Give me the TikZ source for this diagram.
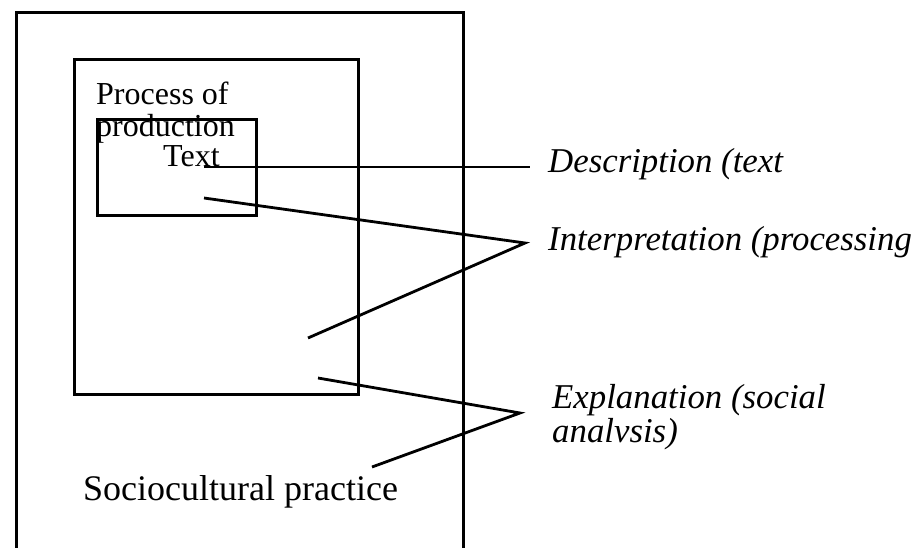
\documentclass[tikz,border=0pt]{standalone}
\usepackage{fontspec}
\setmainfont{Liberation Serif}
\begin{document}
\begin{tikzpicture}[x=1pt,y=-1pt,
  frame/.style={draw, line width=3.4pt, inner sep=0pt, anchor=north west},
  link/.style={line width=2.8pt},
  plain/.style={inner sep=0pt, anchor=base west, font=\fontsize{32}{30}\selectfont},
  big/.style={inner sep=0pt, anchor=base west, font=\fontsize{36}{40}\selectfont},
  lab/.style={inner sep=0pt, anchor=base west, font=\fontsize{34.8}{34}\selectfont\itshape}]
\clip (0,0) rectangle (920,548);
\fill[white] (0,0) rectangle (920,548);
% frames
\node[frame, minimum width=447pt, minimum height=560pt] (outer) at (15,11) {};
\node[frame, minimum width=284pt, minimum height=335pt] (process) at (73,58) {};
\node[frame, minimum width=159pt, minimum height=96pt] (textbox) at (96,118) {};
% texts inside
\node[plain] (procA) at (96,105) {Process of};
\node[plain] (procB) at (96,137) {production};
\node[plain] (txt) at (163,167) {Text};
\node[big] (socio) at (83,500) {Sociocultural practice};
% labels
\node[lab] (desc) at (548,173) {Description (text};
\node[lab] (interp) at (548,250) {Interpretation (processing};
\node[lab] (expl) at (552,408) {Explanation (social};
\node[lab] (expl2) at (552,442) {analvsis)};
% connector points
\coordinate (d1) at (204,167);
\coordinate (d2) at (530,167);
\coordinate (i1) at (204,198);
\coordinate (iv) at (525,243);
\coordinate (i2) at (308,338);
\coordinate (e1) at (318,378);
\coordinate (ev) at (520,413);
\coordinate (e2) at (372,467);
\draw[link] (d1) -- (d2);
\draw[link] (i1) -- (iv) -- (i2);
\draw[link] (e1) -- (ev) -- (e2);
\end{tikzpicture}
\end{document}
